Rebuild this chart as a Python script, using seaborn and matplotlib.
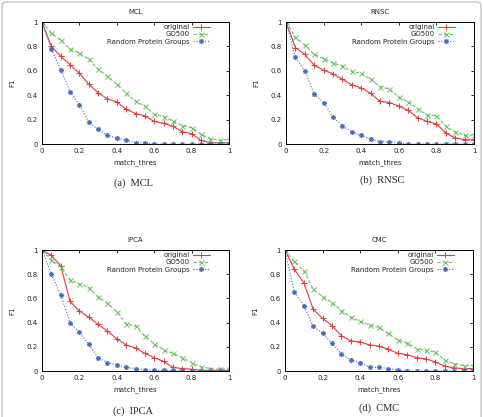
import numpy as np
import pandas as pd
import seaborn as sns
import matplotlib
matplotlib.use("Agg")
import matplotlib.pyplot as plt
from matplotlib.patches import FancyBboxPatch

# ---------------- data ----------------
match_thres = [0.00, 0.05, 0.10, 0.15, 0.20, 0.25, 0.30, 0.35, 0.40, 0.45, 0.50,
               0.55, 0.60, 0.65, 0.70, 0.75, 0.80, 0.85, 0.90, 0.95, 1.00]

series_names = ["original", "GO500", "Random Protein Groups"]

mcl_original = [1.0, 0.80, 0.72, 0.65, 0.58, 0.49, 0.42, 0.37, 0.345, 0.285, 0.25,
                0.23, 0.185, 0.17, 0.145, 0.10, 0.085, 0.03, 0.01, 0.01, 0.01]
mcl_go500 = [1.0, 0.91, 0.85, 0.78, 0.745, 0.695, 0.615, 0.555, 0.49, 0.415, 0.35,
             0.31, 0.245, 0.225, 0.19, 0.15, 0.135, 0.08, 0.045, 0.03, 0.035]
mcl_random = [1.0, 0.78, 0.61, 0.43, 0.32, 0.18, 0.12, 0.07, 0.05, 0.03, 0.01,
              0.01, 0.0, 0.0, 0.0, 0.0, 0.0, 0.0, 0.0, 0.0, 0.0]

rnsc_original = [1.0, 0.79, 0.735, 0.645, 0.605, 0.575, 0.53, 0.485, 0.46, 0.415, 0.35,
                 0.34, 0.31, 0.275, 0.215, 0.185, 0.165, 0.09, 0.05, 0.035, 0.035]
rnsc_go500 = [1.0, 0.875, 0.81, 0.735, 0.70, 0.665, 0.64, 0.595, 0.58, 0.53, 0.47,
              0.45, 0.385, 0.345, 0.29, 0.24, 0.23, 0.145, 0.10, 0.07, 0.075]
rnsc_random = [1.0, 0.71, 0.60, 0.41, 0.34, 0.22, 0.15, 0.10, 0.07, 0.04, 0.02,
               0.02, 0.01, 0.0, 0.0, 0.0, 0.0, 0.0, 0.0, 0.0, 0.0]

ipca_original = [1.0, 0.955, 0.87, 0.575, 0.495, 0.445, 0.385, 0.33, 0.265, 0.215, 0.19,
                 0.145, 0.11, 0.08, 0.03, 0.02, 0.015, 0.005, 0.005, 0.005, 0.005]
ipca_go500 = [1.0, 0.92, 0.86, 0.755, 0.72, 0.69, 0.615, 0.56, 0.49, 0.39, 0.37,
              0.29, 0.225, 0.175, 0.145, 0.11, 0.07, 0.035, 0.02, 0.015, 0.015]
ipca_random = [1.0, 0.80, 0.63, 0.40, 0.32, 0.22, 0.11, 0.07, 0.05, 0.03, 0.02,
               0.01, 0.005, 0.005, 0.005, 0.0, 0.0, 0.0, 0.0, 0.0, 0.0]

cmc_original = [1.0, 0.84, 0.73, 0.51, 0.435, 0.375, 0.29, 0.25, 0.24, 0.215, 0.205,
                0.18, 0.145, 0.135, 0.11, 0.10, 0.075, 0.04, 0.025, 0.02, 0.02]
cmc_go500 = [1.0, 0.905, 0.83, 0.675, 0.615, 0.565, 0.50, 0.445, 0.41, 0.38, 0.36,
             0.31, 0.255, 0.23, 0.185, 0.17, 0.155, 0.09, 0.06, 0.045, 0.045]
cmc_random = [1.0, 0.65, 0.54, 0.37, 0.31, 0.23, 0.14, 0.09, 0.07, 0.03, 0.03,
              0.02, 0.01, 0.0, 0.0, 0.0, 0.0, 0.0, 0.0, 0.0, 0.0]

panel_titles = ["MCL", "RNSC", "IPCA", "CMC"]
panel_captions = ["(a)  MCL", "(b)  RNSC", "(c)  IPCA", "(d)  CMC"]
panel_data = [
    [mcl_original, mcl_go500, mcl_random],
    [rnsc_original, rnsc_go500, rnsc_random],
    [ipca_original, ipca_go500, ipca_random],
    [cmc_original, cmc_go500, cmc_random],
]

tick_values = [0, 0.2, 0.4, 0.6, 0.8, 1]
tick_labels = ["0", "0.2", "0.4", "0.6", "0.8", "1"]

# ---------------- style ----------------
sns.set_style("white")
plt.rcParams["font.family"] = ["DejaVu Sans"]

colors = ["#e33b3b", "#66c35a", "#4a6cc2"]
linestyles = ["-", (0, (3, 2)), (0, (1, 1.6))]
markers = ["+", "x", (8, 2, 0)]
msizes = [4.0, 3.6, 3.6]

W, H = 483, 417
fig = plt.figure(figsize=(W / 100, H / 100), dpi=100)

# axes boxes in pixel coords: left, right, top, bottom
boxes = [
    (42, 229, 22, 144),
    (286, 474, 22, 144),
    (42, 229, 250, 371),
    (285, 473, 250, 371),
]
caption_pos = [(133, 183), (382, 180), (133, 411), (379, 408)]

for i, (l, r, t, b) in enumerate(boxes):
    ax = fig.add_axes([l / W, 1 - b / H, (r - l) / W, (b - t) / H])
    for s, name in enumerate(series_names):
        df = pd.DataFrame({"match_thres": match_thres, "F1": panel_data[i][s]})
        sns.lineplot(data=df, x="match_thres", y="F1", ax=ax,
                     color=colors[s], linestyle=linestyles[s], linewidth=0.8,
                     marker=markers[s], markersize=msizes[s], markeredgewidth=0.7,
                     markeredgecolor=colors[s], label=name)
    ax.set_xlim(0, 1)
    ax.set_ylim(0, 1)
    ax.set_xticks(tick_values)
    ax.set_xticklabels(tick_labels)
    ax.set_yticks(tick_values)
    ax.set_yticklabels(tick_labels)
    ax.tick_params(direction="in", top=True, right=True, length=2.5,
                   width=0.6, labelsize=5, pad=3, color="black")
    for sp in ax.spines.values():
        sp.set_color("black")
        sp.set_linewidth(0.7)
    ax.set_xlabel("match_thres", fontsize=5, labelpad=4)
    ax.set_ylabel("F1", fontsize=5, labelpad=8)
    ax.set_title(panel_titles[i], fontsize=5, pad=6)
    leg = ax.legend(loc="upper right", bbox_to_anchor=(0.91, 1.0),
                    frameon=False, fontsize=5, markerfirst=False,
                    handlelength=2.4, handletextpad=0.5, labelspacing=0.15,
                    borderaxespad=0.0, borderpad=0.35)
    for col in leg._legend_handle_box.get_children():
        col.align = "right"
    cx, cy = caption_pos[i]
    fig.text(cx / W, 1 - cy / H, panel_captions[i], ha="center", va="center",
             fontsize=7.5, family=["Liberation Serif"])

border = FancyBboxPatch((2 / W, -0.05), 1 - 4 / W, 1.05 - 2 / H,
                        boxstyle="round,pad=0,rounding_size=0.01",
                        transform=fig.transFigure, facecolor="none",
                        edgecolor="#b5b5b5", linewidth=0.8)
fig.patches.append(border)

fig.savefig("out.png", dpi=100)
